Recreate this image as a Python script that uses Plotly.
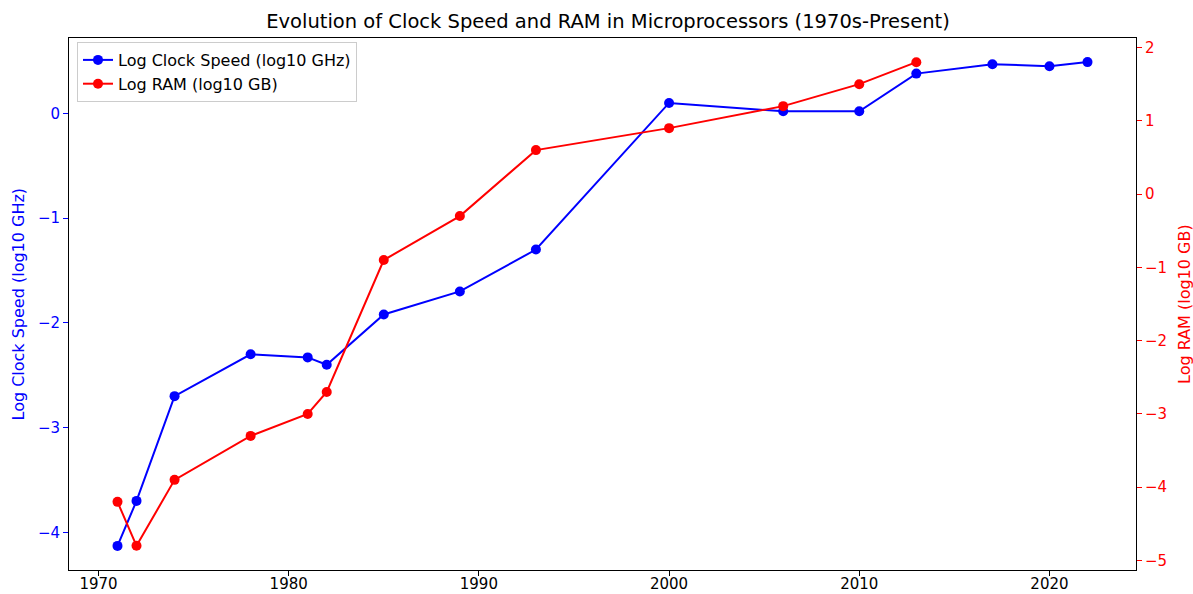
import plotly.graph_objects as go

years_clock = [1971, 1972, 1974, 1978, 1981, 1982, 1985, 1989, 1993, 2000, 2006, 2010, 2013, 2017, 2020, 2022]
log_clock = [-4.13, -3.70, -2.70, -2.30, -2.33, -2.40, -1.92, -1.70, -1.30, 0.10, 0.02, 0.02, 0.38, 0.47, 0.45, 0.49]

years_ram = [1971, 1972, 1974, 1978, 1981, 1982, 1985, 1989, 1993, 2000, 2006, 2010, 2013]
log_ram = [-4.2, -4.8, -3.9, -3.3, -3.0, -2.7, -0.9, -0.3, 0.6, 0.9, 1.2, 1.5, 1.8]

x_ticks = [1970, 1980, 1990, 2000, 2010, 2020]
left_ticks = [-4, -3, -2, -1, 0]
right_ticks = [-5, -4, -3, -2, -1, 0, 1, 2]

FONT = "DejaVu Sans"


def minus(v):
    return str(v).replace("-", "\u2212")


fig = go.Figure()
fig.add_trace(go.Scatter(
    x=years_clock, y=log_clock, mode="lines+markers",
    name="Log Clock Speed (log10 GHz)",
    line=dict(color="blue", width=2),
    marker=dict(color="blue", size=10),
    yaxis="y",
))
fig.add_trace(go.Scatter(
    x=years_ram, y=log_ram, mode="lines+markers",
    name="Log RAM (log10 GB)",
    line=dict(color="red", width=2),
    marker=dict(color="red", size=10),
    yaxis="y2",
))

W, H = 1193, 594
ml, mr, mt, mb = 69, 57, 38, 24
PW, PH = W - ml - mr, H - mt - mb

fig.update_layout(
    width=W, height=H,
    margin=dict(l=ml, r=mr, t=mt, b=mb, autoexpand=False),
    paper_bgcolor="white", plot_bgcolor="white",
    font=dict(family=FONT, size=15, color="black"),
    title=dict(text="Evolution of Clock Speed and RAM in Microprocessors (1970s-Present)",
               x=608 / W, xanchor="center", y=1 - 21 / H, yanchor="middle",
               font=dict(family=FONT, size=19.5, color="black")),
    showlegend=True,
    legend=dict(x=8 / PW, y=1 - 4 / PH, xanchor="left", yanchor="top",
                bgcolor="rgba(255,255,255,0.8)", bordercolor="#cccccc", borderwidth=1,
                font=dict(family=FONT, size=16, color="black"),
                tracegroupgap=0),
    xaxis=dict(range=[1968.45, 2024.55], tickvals=x_ticks, ticktext=[str(v) for v in x_ticks],
               showgrid=False, zeroline=False, showline=True, linecolor="black", linewidth=1,
               mirror=True, ticks="outside", ticklen=5, tickcolor="black", automargin=False,
               ticklabelstandoff=-5,
               tickfont=dict(family=FONT, size=15, color="black")),
    yaxis=dict(range=[-4.36, 0.72], tickvals=left_ticks, ticktext=[minus(v) for v in left_ticks],
               showgrid=False, zeroline=False, showline=True, linecolor="black", linewidth=1,
               ticks="outside", ticklen=5, tickcolor="blue", automargin=False,
               tickfont=dict(family=FONT, size=15, color="blue")),
    yaxis2=dict(range=[-5.13, 2.13], tickvals=right_ticks, ticktext=[minus(v) for v in right_ticks],
                overlaying="y", side="right",
                showgrid=False, zeroline=False, showline=True, linecolor="black", linewidth=1,
                ticks="outside", ticklen=5, tickcolor="red", automargin=False,
                tickfont=dict(family=FONT, size=15, color="red")),
    annotations=[
        dict(text="Log Clock Speed (log10 GHz)", xref="paper", yref="paper",
             x=(17.5 - ml) / PW, y=0.5, xanchor="center", yanchor="middle",
             textangle=-90, showarrow=False,
             font=dict(family=FONT, size=16, color="blue")),
        dict(text="Log RAM (log10 GB)", xref="paper", yref="paper",
             x=(1184 - ml) / PW, y=0.5, xanchor="center", yanchor="middle",
             textangle=-90, showarrow=False,
             font=dict(family=FONT, size=16, color="red")),
    ],
)

fig.write_html("out.html", config={"displayModeBar": False},
               post_script="document.body.style.margin='0';document.body.style.overflow='hidden';")
